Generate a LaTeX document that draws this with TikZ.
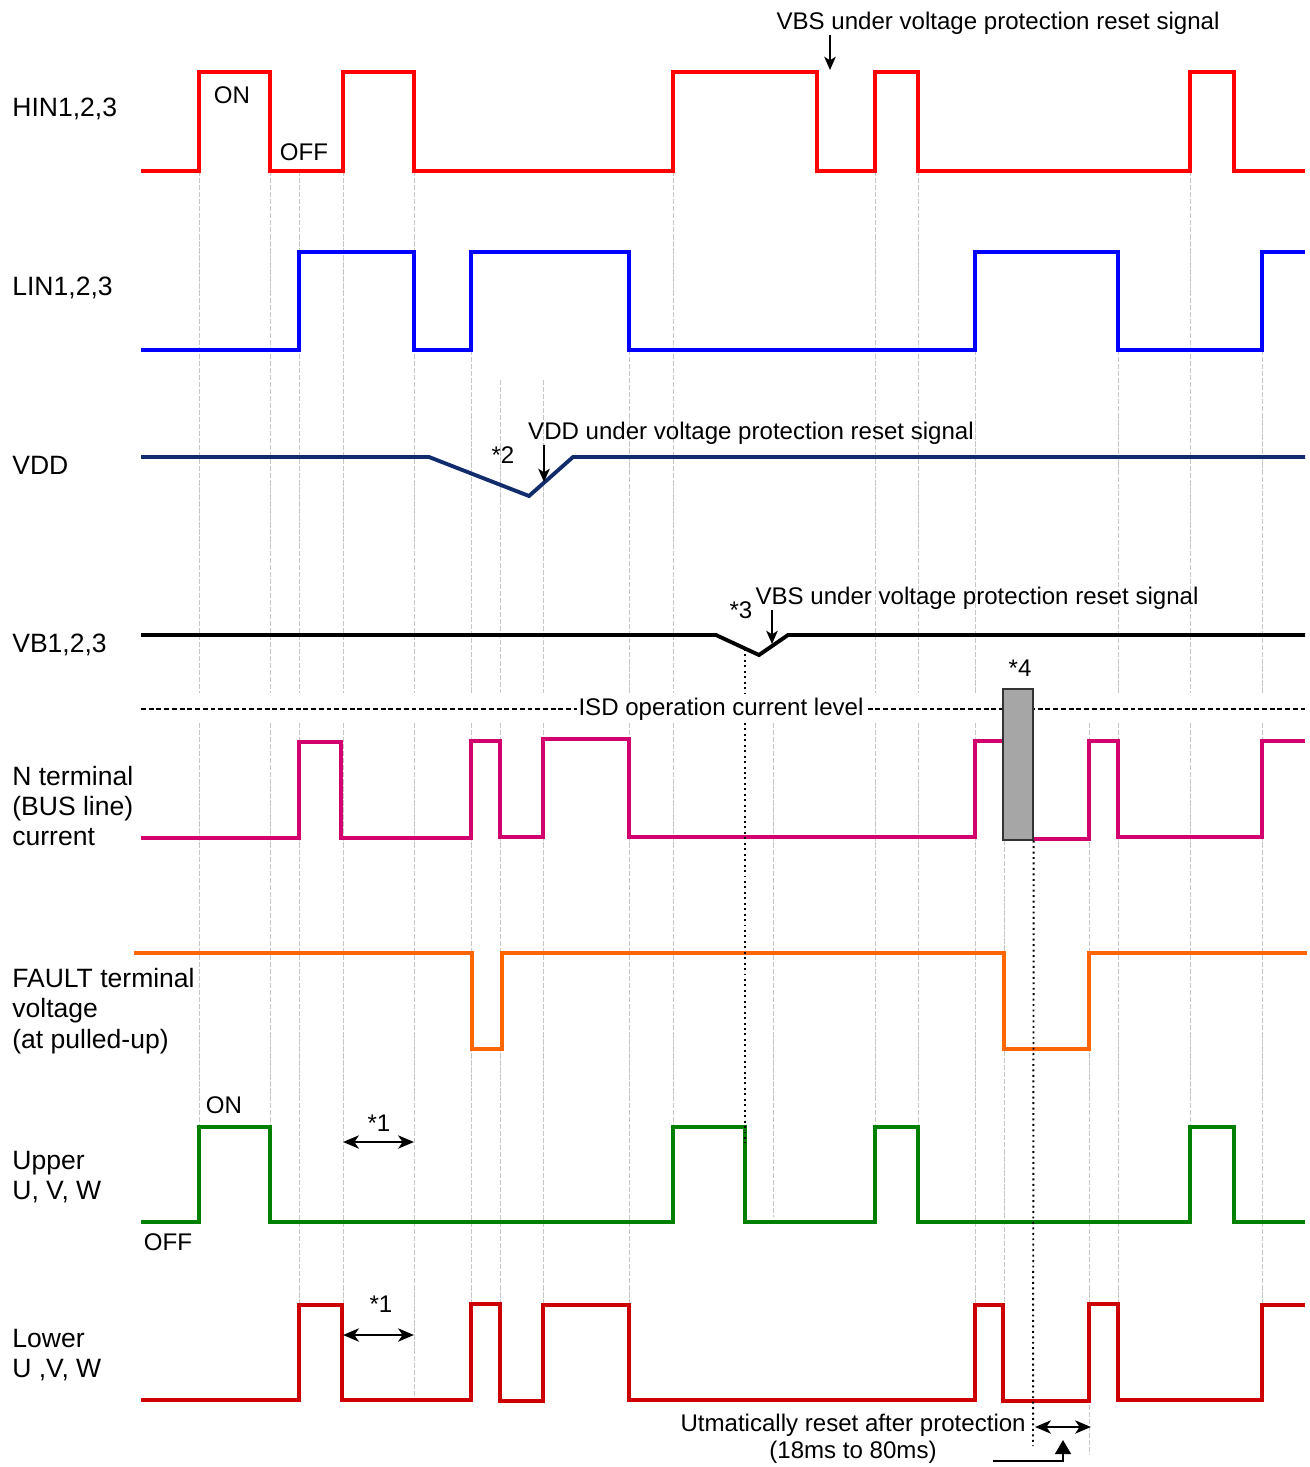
\documentclass[tikz,border=0pt]{standalone}
\usepackage{fontspec}
\setmainfont{Liberation Sans}
\usetikzlibrary{arrows.meta}

\definecolor{hinred}{HTML}{FF0000}
\definecolor{linblue}{HTML}{0000FF}
\definecolor{vddnavy}{HTML}{102C6C}
\definecolor{nmagenta}{HTML}{D2006E}
\definecolor{faultorange}{HTML}{FF6600}
\definecolor{uppergreen}{HTML}{008000}
\definecolor{lowerred}{HTML}{CC0000}
\definecolor{isdgray}{HTML}{A6A6A6}

\begin{document}
\begin{tikzpicture}[
    x=0.02cm, y=-0.02cm,
    wave/.style    = {line width=2.2pt, line join=miter},
    grid/.style    = {draw=gray!45, line width=0.5pt, dash pattern=on 3pt off 1pt},
    cueline/.style = {draw=black, line width=1.1pt, dotted},
    txt/.style     = {font=\fontsize{13.7}{16.5}\selectfont, inner sep=0pt},
    sig/.style     = {font=\fontsize{15.1}{17.3}\selectfont, inner sep=0pt,
                      anchor=west, align=left},
    arrow/.style   = {-{Stealth[length=7.5pt, width=6.5pt, inset=2pt]}, line width=1.3pt},
    twoway/.style  = {{Stealth[length=9pt, width=7.5pt, inset=2.5pt]}-{Stealth[length=9pt, width=7.5pt, inset=2.5pt]},
                      line width=1.4pt},
    isdbox/.style  = {rectangle, draw=black!80, fill=isdgray, line width=0.8pt,
                      minimum width=0.6cm, minimum height=3.02cm, inner sep=0pt}
]
\path[use as bounding box, fill=white] (0,0) rectangle (1310,1467);

% grid lines
\draw[grid] (199,171) -- (199,693) (199,723) -- (199,1127);
\draw[grid] (270,171) -- (270,693) (270,723) -- (270,1127);
\draw[grid] (299,171) -- (299,693) (299,723) -- (299,1303);
\draw[grid] (343,171) -- (343,693) (343,723) -- (343,1303);
\draw[grid] (414,171) -- (414,693) (414,723) -- (414,1400);
\draw[grid] (471,350) -- (471,693) (471,723) -- (471,1303);
\draw[grid] (500,380) -- (500,693) (500,723) -- (500,1303);
\draw[grid] (543,380) -- (543,693) (543,723) -- (543,1303);
\draw[grid] (629,350) -- (629,693) (629,723) -- (629,1303);
\draw[grid] (673,171) -- (673,693) (673,723) -- (673,1127);
\draw[grid] (773,723) -- (773,1217);
\draw[grid] (875,171) -- (875,693) (875,723) -- (875,1127);
\draw[grid] (918,171) -- (918,693) (918,723) -- (918,1127);
\draw[grid] (975,350) -- (975,693) (975,723) -- (975,1303);
\draw[grid] (1004,840) -- (1004,1303);
\draw[grid] (1089,723) -- (1089,1455);
\draw[grid] (1118,350) -- (1118,693) (1118,723) -- (1118,1303);
\draw[grid] (1190,171) -- (1190,693) (1190,723) -- (1190,1127);
\draw[grid] (1262,350) -- (1262,693) (1262,723) -- (1262,1303);

% HIN
\draw[wave, hinred] (141,171) -- (199,171) -- (199,72) -- (270,72) -- (270,171)
    -- (343,171) -- (343,72) -- (414,72) -- (414,171) -- (673,171) -- (673,72)
    -- (817,72) -- (817,171) -- (875,171) -- (875,72) -- (918,72) -- (918,171)
    -- (1190,171) -- (1190,72) -- (1234,72) -- (1234,171) -- (1305,171);

% LIN
\draw[wave, linblue] (141,350) -- (299,350) -- (299,252) -- (414,252) -- (414,350)
    -- (471,350) -- (471,252) -- (629,252) -- (629,350) -- (975,350) -- (975,252)
    -- (1118,252) -- (1118,350) -- (1262,350) -- (1262,252) -- (1305,252);

% VDD
\draw[wave, vddnavy] (141,457) -- (429,457) -- (529,496) -- (573,457) -- (1305,457);

% VB
\draw[wave, black] (141,635) -- (716,635) -- (759,655) -- (788,635) -- (1305,635);

% ISD level
\draw[black, line width=0.8pt, dash pattern=on 2.8pt off 1.6pt] (141,709) -- (1305,709);
\node[txt, fill=white, inner xsep=1pt] (isdtxt) at (721,709) {ISD operation current level};

% N terminal
\draw[wave, nmagenta] (141,838) -- (299,838) -- (299,742) -- (341,742) -- (341,838)
    -- (471,838) -- (471,741) -- (500,741) -- (500,837) -- (543,837) -- (543,739)
    -- (629,739) -- (629,837) -- (975,837) -- (975,741) -- (1005,741)
    (1033,839) -- (1089,839) -- (1089,741) -- (1118,741) -- (1118,837)
    -- (1262,837) -- (1262,741) -- (1305,741);
\node[isdbox] (isd) at (1018,764.5) {};

% FAULT
\draw[wave, faultorange] (134,953) -- (472,953) -- (472,1049) -- (502,1049)
    -- (502,953) -- (1004,953) -- (1004,1049) -- (1089,1049) -- (1089,953)
    -- (1307,953);

% Upper
\draw[wave, uppergreen] (141,1222) -- (199,1222) -- (199,1127) -- (270,1127)
    -- (270,1222) -- (673,1222) -- (673,1127) -- (745,1127) -- (745,1222)
    -- (875,1222) -- (875,1127) -- (918,1127) -- (918,1222) -- (1190,1222)
    -- (1190,1127) -- (1234,1127) -- (1234,1222) -- (1305,1222);

% Lower
\draw[wave, lowerred] (141,1400) -- (299,1400) -- (299,1305) -- (342,1305)
    -- (342,1400) -- (471,1400) -- (471,1304) -- (500,1304) -- (500,1401)
    -- (543,1401) -- (543,1305) -- (629,1305) -- (629,1400) -- (975,1400)
    -- (975,1305) -- (1003,1305) -- (1003,1401) -- (1089,1401) -- (1089,1304)
    -- (1118,1304) -- (1118,1400) -- (1262,1400) -- (1262,1305) -- (1305,1305);

% dotted markers
\coordinate (vbdip)   at (745,649);
\coordinate (upfall)  at (745,1143);
\coordinate (isdend)  at (1033,1446);
\draw[cueline] (vbdip) -- (745,693) (745,723) -- (upfall);
\draw[cueline] (isd.south east) -- (isdend);

% signal names
\node[sig] (hin)   at (12,109)  {HIN1,2,3};
\node[sig] (lin)   at (12,288)  {LIN1,2,3};
\node[sig] (vdd)   at (12,465)  {VDD};
\node[sig] (vb)    at (12,645)  {VB1,2,3};
\node[sig] (nterm) at (12,806)  {N terminal\\(BUS line)\\current};
\node[sig] (fault) at (12,1011) {FAULT terminal\\voltage\\(at pulled-up)};
\node[sig] (upper) at (12,1177) {Upper\\U, V, W};
\node[sig] (lower) at (12,1355) {Lower\\U ,V, W};

% state labels
\node[txt] (hinon)   at (232,95)   {ON};
\node[txt] (hinoff)  at (304,152)  {OFF};
\node[txt] (upon)    at (224,1105) {ON};
\node[txt] (upoff)   at (168,1242) {OFF};

% notes
\node[txt] (vbsreset) at (998,23)  {VBS under voltage protection reset signal};
\node[txt] (vddreset) at (751,433) {VDD under voltage protection reset signal};
\node[txt] (vbreset)  at (977,598) {VBS under voltage protection reset signal};
\node[txt] (note2) at (503,455)  {*2};
\node[txt] (note3) at (741,610)  {*3};
\node[txt] (note4) at (1020,668) {*4};
\node[txt] (note1a) at (379,1123) {*1};
\node[txt] (note1b) at (381,1304) {*1};
\node[txt, anchor=east] (autoreset) at (1026,1425) {Utmatically reset after protection};
\node[txt] (autotime) at (853,1452) {(18ms to 80ms)};

% arrows
\coordinate (hinfall) at (830,70);
\coordinate (vddrise) at (544,482);
\coordinate (vbrise)  at (772,644);
\draw[arrow] (vbsreset.south -| hinfall) -- (hinfall);
\draw[arrow] (vddreset.south -| vddrise) -- (vddrise);
\draw[arrow] (vbreset.south -| vbrise) -- (vbrise);

\coordinate (d1a) at (343,1142);
\coordinate (d1b) at (414,1142);
\coordinate (d2a) at (343,1335);
\coordinate (d2b) at (414,1335);
\draw[twoway] (d1a) -- (d1b);
\draw[twoway] (d2a) -- (d2b);

\coordinate (rsta) at (1035,1427);
\coordinate (rstb) at (1091,1427);
\draw[twoway] (rsta) -- (rstb);
\coordinate (pt1) at (993,1461);
\coordinate (pt2) at (1063,1440);
\draw[-{Triangle[length=8pt, width=9pt]}, line width=1.3pt] (pt1) -| (pt2);

\end{tikzpicture}
\end{document}
